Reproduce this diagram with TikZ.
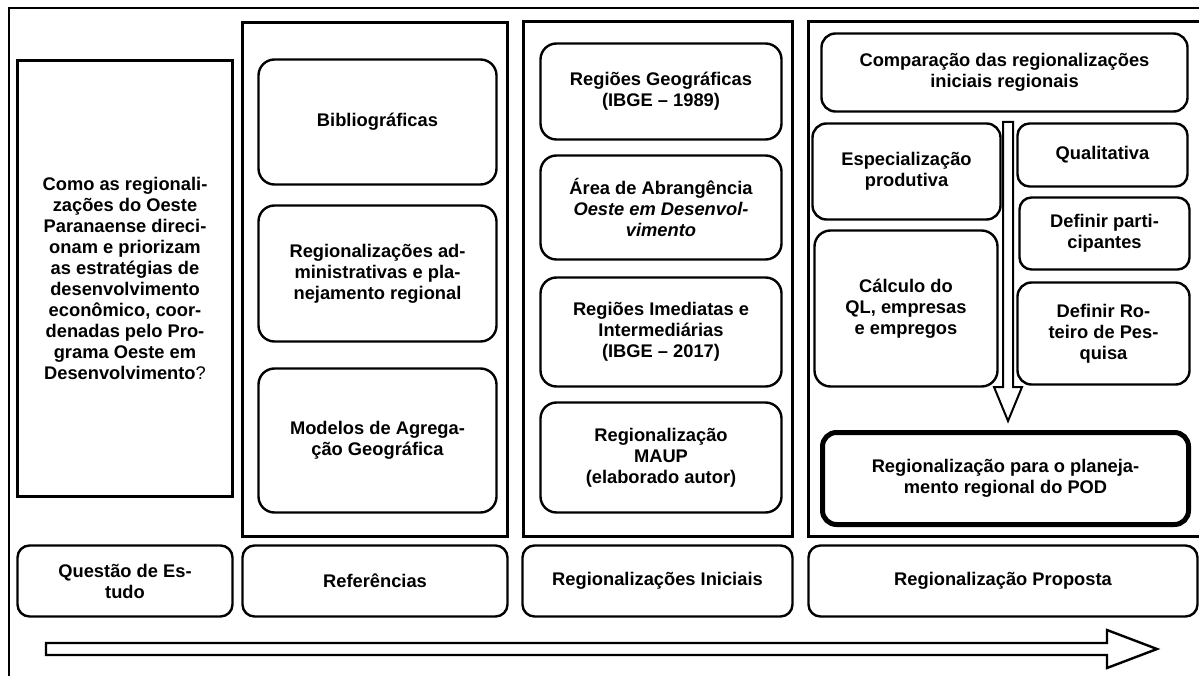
\documentclass[tikz,border=0pt]{standalone}
\usepackage{fontspec}
\setmainfont{Liberation Sans}
\usepackage{tikz}

\begin{document}
\begin{tikzpicture}[x=1pt,y=-1pt,line width=2.4pt,
  painel/.style={draw,rectangle,inner sep=0pt},
  caixa/.style={draw,rounded corners=16pt,align=center,inner sep=0pt,
    font=\fontsize{18.3}{21}\selectfont\bfseries},
  etapa/.style={caixa,rounded corners=12pt,minimum height=71}]
  \useasboundingbox (0,0) rectangle (1199,676);
  \clip (0,0) rectangle (1199,676);
  \draw (9,8) rectangle (1230,700);
  % questao
  \node[caixa,rounded corners=0pt,minimum width=215,minimum height=436] (questao) at (125,278.5)
    {Como as regionali-\\zações do Oeste\\Paranaense direci-\\onam e priorizam\\as estratégias de\\desenvolvimento\\econômico, coor-\\denadas pelo Pro-\\grama Oeste em\\Desenvolvimento{\mdseries ?}};
  % referencias
  \node[painel,minimum width=265,minimum height=514] (pref) at (375,279.5) {};
  \node[caixa,minimum width=238,minimum height=125] (bib) at (377.5,122) {Bibliográficas};
  \node[caixa,minimum width=238,minimum height=136] (regadm) at (377.5,273.5)
    {Regionalizações ad-\\ministrativas e pla-\\nejamento regional};
  \node[caixa,minimum width=238,minimum height=144] (modelos) at (377.5,440.5)
    {Modelos de Agrega-\\ção Geográfica};
  % regionalizacoes iniciais
  \node[painel,minimum width=269,minimum height=515] (pini) at (658,279) {};
  \node[caixa,minimum width=241,minimum height=96] (ibge89) at (661,91.5)
    {Regiões Geográficas\\(IBGE -- 1989)};
  \node[caixa,minimum width=241,minimum height=104] (area) at (661,207.5)
    {Área de Abrangência\\\textit{Oeste em Desenvol-}\\\textit{vimento}};
  \node[caixa,minimum width=241,minimum height=109] (ibge17) at (661,332)
    {Regiões Imediatas e\\Intermediárias\\(IBGE -- 2017)};
  \node[caixa,minimum width=241,minimum height=110] (maup) at (661,457.5)
    {Regionalização\\MAUP\\(elaborado autor)};
  % regionalizacao proposta
  \node[painel,minimum width=401,minimum height=515] (pprop) at (1009,279) {};
  \node[caixa,rounded corners=14pt,minimum width=366,minimum height=78] (comp) at (1004.5,72.5)
    {Comparação das regionalizações\\iniciais regionais};
  \node[caixa,rounded corners=14pt,minimum width=188,minimum height=96] (espec) at (906.5,171.5)
    {Especialização\\produtiva};
  \node[caixa,minimum width=183,minimum height=156] (calculo) at (906,308.5)
    {Cálculo do\\QL, empresas\\e empregos};
  \node[caixa,rounded corners=12pt,minimum width=170,minimum height=63] (quali) at (1102.5,155)
    {Qualitativa};
  \node[caixa,rounded corners=12pt,minimum width=170,minimum height=72] (partic) at (1104.5,233.5)
    {Definir parti-\\cipantes};
  \node[caixa,rounded corners=14pt,minimum width=172,minimum height=102] (roteiro) at (1103.5,333.5)
    {Definir Ro-\\teiro de Pes-\\quisa};
  \node[caixa,line width=5pt,rounded corners=14pt,minimum width=366,minimum height=92] (final) at (1005.5,478.5)
    {Regionalização para o planeja-\\mento regional do POD};
  \draw[line width=2pt,fill=white] (1003,122) -- (1003,387) -- (994,387) -- (1008,421)
    -- (1022,387) -- (1013,387) -- (1013,122) -- cycle;
  % etapas
  \node[etapa,minimum width=215] (tq) at (125,581) {Questão de Es-\\tudo};
  \node[etapa,minimum width=265] (tr) at (375,581) {Referências};
  \node[etapa,minimum width=270] (ti) at (657.5,581) {Regionalizações Iniciais};
  \node[etapa,minimum width=389] (tp) at (1003,581) {Regionalização Proposta};
  \draw (46,643) -- (1107,643) -- (1107,630) -- (1157,649)
    -- (1107,668) -- (1107,655) -- (46,655) -- cycle;
\end{tikzpicture}
\end{document}
